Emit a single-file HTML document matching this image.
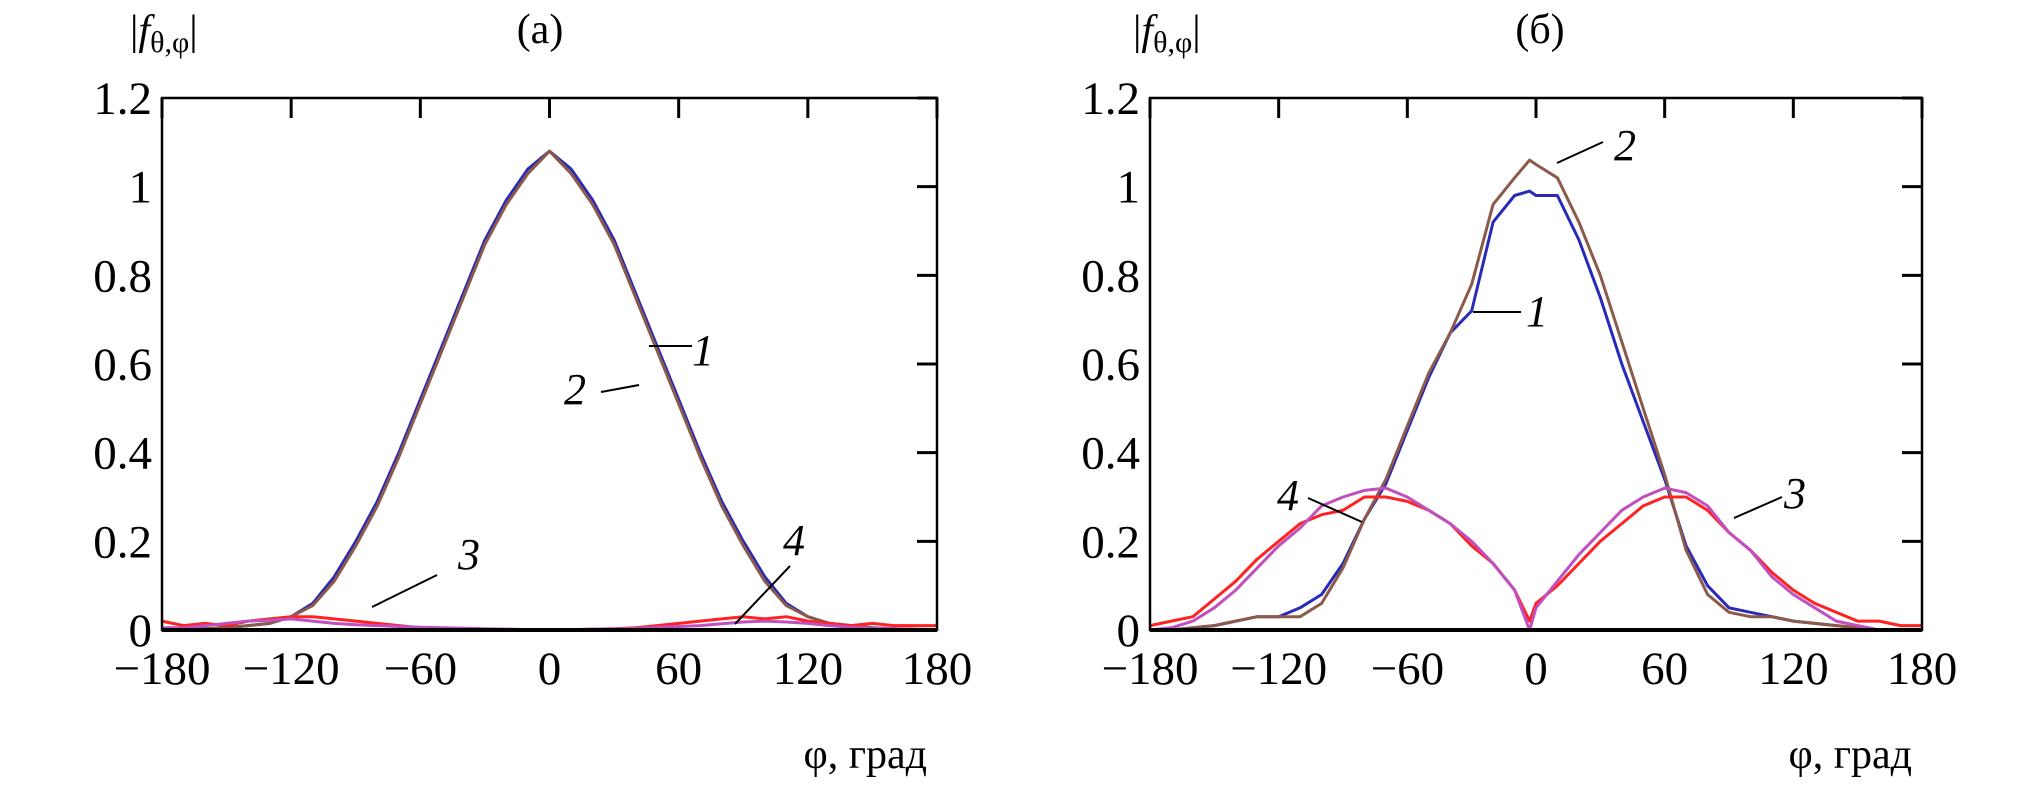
<!DOCTYPE html>
<html><head><meta charset="utf-8"><style>
html,body{margin:0;padding:0;background:#fff;}
svg{display:block;font-family:"Liberation Serif",serif;}
</style></head><body>
<svg id="chart" width="2038" height="791" viewBox="0 0 2038 791" xmlns="http://www.w3.org/2000/svg"></svg>
<script>
const phiA=[-180,-170,-160,-150,-140,-130,-120,-110,-100,-90,-80,-70,-60,-50,-40,-30,-20,-10,0,10,20,30,40,50,60,70,80,90,100,110,120,130,140,150,160,170,180];
const a1=[0,0,0.003,0.005,0.01,0.015,0.03,0.06,0.12,0.2,0.29,0.4,0.52,0.64,0.76,0.88,0.97,1.04,1.08,1.04,0.97,0.88,0.76,0.64,0.52,0.4,0.29,0.2,0.12,0.06,0.03,0.015,0.01,0.005,0.003,0,0];
const a2=[0,0,0.003,0.005,0.01,0.015,0.03,0.055,0.11,0.19,0.28,0.39,0.51,0.63,0.75,0.87,0.96,1.03,1.08,1.03,0.96,0.87,0.75,0.63,0.51,0.39,0.28,0.19,0.11,0.055,0.03,0.015,0.01,0.005,0.003,0,0];
const a3=[0.02,0.01,0.015,0.01,0.02,0.025,0.03,0.03,0.025,0.02,0.015,0.01,0.005,0.003,0.002,0.002,0,0,0,0,0.002,0.003,0.005,0.01,0.015,0.02,0.025,0.03,0.025,0.03,0.02,0.015,0.01,0.015,0.01,0.01,0.01];
const a4=[0.005,0.005,0.01,0.015,0.02,0.022,0.025,0.02,0.015,0.012,0.01,0.008,0.006,0.005,0.004,0.003,0.002,0.001,0,0.001,0.002,0.003,0.004,0.006,0.008,0.01,0.014,0.018,0.02,0.018,0.015,0.01,0.006,0.004,0.003,0.002,0];
const phiB=[-180,-170,-160,-150,-140,-130,-120,-110,-100,-90,-80,-70,-60,-50,-40,-30,-20,-10,-3,0,10,20,30,40,50,60,70,80,90,100,110,120,130,140,150,160,170,180];
const b1=[0,0,0.005,0.01,0.02,0.03,0.03,0.05,0.08,0.15,0.25,0.33,0.45,0.57,0.67,0.72,0.92,0.98,0.99,0.98,0.98,0.88,0.75,0.6,0.47,0.34,0.19,0.1,0.05,0.04,0.03,0.02,0.015,0.01,0.005,0,0,0];
const b2=[0,0,0.005,0.01,0.02,0.03,0.03,0.03,0.06,0.14,0.25,0.34,0.46,0.58,0.67,0.78,0.96,1.02,1.06,1.05,1.02,0.92,0.8,0.65,0.5,0.35,0.18,0.08,0.04,0.03,0.03,0.02,0.015,0.01,0.005,0,0,0];
const b3=[0.01,0.02,0.03,0.07,0.11,0.16,0.2,0.24,0.26,0.27,0.3,0.3,0.29,0.27,0.24,0.19,0.15,0.09,0.02,0.06,0.1,0.15,0.2,0.24,0.28,0.3,0.3,0.27,0.22,0.18,0.13,0.09,0.06,0.04,0.02,0.02,0.01,0.01];
const b4=[0,0.005,0.02,0.05,0.09,0.14,0.19,0.23,0.28,0.3,0.315,0.32,0.3,0.27,0.24,0.2,0.15,0.09,0,0.05,0.11,0.17,0.22,0.27,0.3,0.32,0.31,0.28,0.22,0.18,0.12,0.08,0.05,0.02,0.01,0,0,0];
const xTicks=[-180,-120,-60,0,60,120,180];
const xTickLabels=["\u2212180","\u2212120","\u221260","0","60","120","180"];
const yTicks=[0,0.2,0.4,0.6,0.8,1,1.2];
const yTickLabels=["0","0.2","0.4","0.6","0.8","1","1.2"];

const NS="http://www.w3.org/2000/svg";
const svg=document.getElementById('chart');
function mk(tag,attrs,parent,text){const e=document.createElementNS(NS,tag);for(const k in attrs)e.setAttribute(k,attrs[k]);if(text!==undefined)e.textContent=text;(parent||svg).appendChild(e);return e;}

function panel(cfg){
  const g=mk('g',{});
  
  
  const L=cfg.left,R=cfg.right,T=98,B=630;
  const sx=v=>L+(v+180)/360*(R-L);
  const sy=v=>B-v/1.2*(B-T);
  cfg.series.forEach(s=>{
    let d='';
    for(let i=0;i<cfg.phi.length;i++){
      const x=sx(cfg.phi[i]),y=sy(s.vals[i]);
      d+=(i===0?'M':' L')+x.toFixed(1)+' '+y.toFixed(1);
    }
    const p=mk('path',{d:d,fill:'none',stroke:s.color,'stroke-width':3,'stroke-linejoin':'round'},g);
    
    
  });
  const fr=mk('rect',{x:L,y:T,width:R-L,height:B-T,fill:'none',stroke:'#000','stroke-width':2.5},g);
  
  
  mk('line',{x1:L,y1:B,x2:R,y2:B,stroke:'#000','stroke-width':4},g);
  xTicks.forEach((v,i)=>{
    const x=sx(v);
    mk('line',{x1:x,y1:T,x2:x,y2:T+20,stroke:'#000','stroke-width':3},g);
    const t=mk('text',{x:x,y:684,'font-size':47,'text-anchor':'middle'},g,xTickLabels[i]);
    
    
  });
  yTicks.forEach((v,i)=>{
    const y=sy(v);
    mk('line',{x1:R-20,y1:y,x2:R,y2:y,stroke:'#000','stroke-width':3},g);
    const t=mk('text',{x:L-10,y:y+16,'font-size':47,'text-anchor':'end'},g,yTickLabels[i]);
    
    
  });
  const tt=mk('text',{x:cfg.titleX,y:43,'font-size':42,'text-anchor':'middle'},g,cfg.title);
  
  
  const yl=mk('text',{x:cfg.ylX,y:44,'font-size':42},g);
  
  
  yl.innerHTML='|<tspan font-style="italic">f</tspan><tspan font-size="30" dy="8">θ,φ</tspan><tspan dy="-8">|</tspan>';
  const xl=mk('text',{x:R-10,y:768,'font-size':42,'text-anchor':'end'},g,'φ, град');
  
  
  cfg.notes.forEach(n=>{
    mk('line',{x1:n.l[0],y1:n.l[1],x2:n.l[2],y2:n.l[3],stroke:'#000','stroke-width':2},g);
    const t=mk('text',{x:n.x,y:n.y,'font-size':44,'font-style':'italic','text-anchor':'middle'},g,n.t);
    
    
  });
}
panel({name:'panel-a',left:162,right:937,phi:phiA,title:'(a)',titleX:540,ylX:130,
  series:[{name:'series-1',vals:a1,color:'#2a2ab8'},{name:'series-2',vals:a2,color:'#8b5a48'},{name:'series-3',vals:a3,color:'#ff2222'},{name:'series-4',vals:a4,color:'#c050c0'}],
  notes:[{t:'1',x:703,y:365,l:[649,346,692,346]},{t:'2',x:575,y:404,l:[601,392,639,385]},
         {t:'3',x:469,y:569,l:[372,607,437,575]},{t:'4',x:794,y:555,l:[735,624,790,566]}]});
panel({name:'panel-b',left:1150,right:1922,phi:phiB,title:'(б)',titleX:1540,ylX:1133,
  series:[{name:'series-1',vals:b1,color:'#2a2ab8'},{name:'series-2',vals:b2,color:'#8b5a48'},{name:'series-3',vals:b3,color:'#ff2222'},{name:'series-4',vals:b4,color:'#c050c0'}],
  notes:[{t:'2',x:1625,y:160,l:[1557,163,1603,142]},{t:'1',x:1537,y:326,l:[1473,312,1521,312]},
         {t:'4',x:1288,y:510,l:[1308,498,1362,522]},{t:'3',x:1795,y:508,l:[1782,497,1734,518]}]});
</script>
</body></html>
